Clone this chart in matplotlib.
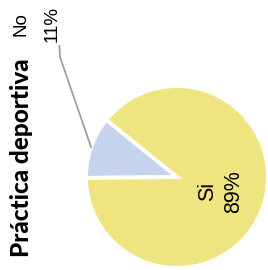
import numpy as np
import matplotlib.pyplot as plt

labels = ['No', 'Si']
values = [11, 89]
colors = ['#c5d4ec', '#eee580']
title = 'Práctica deportiva'


def plot_pie():
    fig = plt.figure(figsize=(2.68, 2.70), dpi=100)
    # pie centre ~ (177, 177) px, radius ~ 91 px
    cx, cy, r = 177, 177, 91
    ax = fig.add_axes([(cx - r) / 268, (270 - cy - r) / 270, 2 * r / 268, 2 * r / 270])
    start = 141
    wedges, _ = ax.pie(values, colors=colors, startangle=start, counterclock=True,
                       wedgeprops=dict(edgecolor='white', linewidth=2.8))
    ax.set_xlim(-1, 1)
    ax.set_ylim(-1, 1)
    ax.set_aspect('equal')
    ax.axis('off')

    total = float(sum(values))
    mids = []
    a = start
    for v in values:
        span = 360 * v / total
        mids.append(np.deg2rad(a + span / 2))
        a += span

    # Si label inside its slice
    m = mids[1]
    ax.text(0.55 * np.cos(m) - 0.04, 0.55 * np.sin(m) + 0.02,
            '{}\n{}%'.format(labels[1], values[1]), rotation=90,
            ha='center', va='center', fontsize=15.5, family='Liberation Sans',
            linespacing=1.3, color='black')

    # No label outside with leader line
    m = mids[0]
    ex, ey = np.cos(m), np.sin(m)
    px = lambda x: (x - cx) / r
    py = lambda y: (cy - y) / r
    ax.plot([px(59.5), px(60), ex], [py(46), py(57), ey], color='#999999', lw=1.2,
            clip_on=False)
    fig.text(21 / 268, 1 - 24 / 270, labels[0], rotation=90, ha='center', va='center',
             fontsize=13.5, family='Liberation Sans')
    fig.text(52 / 268, 1 - 24 / 270, '{}%'.format(values[0]), rotation=90,
             ha='center', va='center', fontsize=13.5, family='Liberation Sans')

    fig.text(22 / 268, 1 - 158 / 270, title, rotation=90, ha='center', va='center',
             fontsize=17.5, fontweight='black', family='Lato')

    fig.savefig('out.png', dpi=100)


if __name__ == '__main__':
    plot_pie()
